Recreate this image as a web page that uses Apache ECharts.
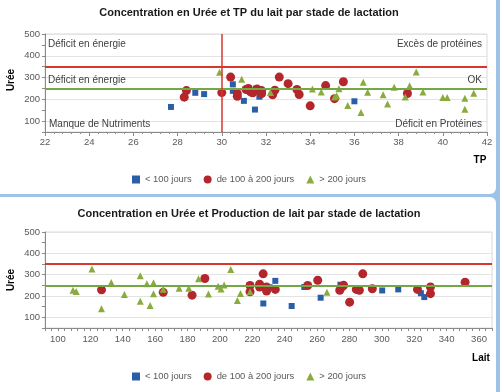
<!DOCTYPE html>
<html><head><meta charset="utf-8">
<script src="https://cdn.jsdelivr.net/npm/echarts@6/dist/echarts.min.js"></script>
<style>
html,body{margin:0;padding:0;background:#9dc3e6;width:500px;height:392px;overflow:hidden;position:relative}
.panel{position:absolute;background:#fff;border-radius:6px}
#c{position:absolute;left:0;top:0;width:500px;height:392px}
</style>
</head><body>
<div class="panel" style="left:-6px;top:-6px;width:502px;height:200px"></div>
<div class="panel" style="left:-6px;top:197px;width:502px;height:201px"></div>
<div id="c"></div>
<script>
const seriesNames = ['< 100 jours', 'de 100 à 200 jours', '> 200 jours'];
const UREE_HIGH = 350, UREE_LOW = 250, TP_LIMIT = 30;

// Chart 1: TP vs Urée
const tpBlue = [[27.7,165],[28.8,230],[29.2,224],[30.5,269],[30.5,239],[31.0,193],[31.55,250],[31.5,153],[31.7,212],[36.0,191]];
const tpRed = [[28.3,210],[28.4,240],[30.0,231],[30.4,302],[30.7,227],[30.7,214],[31.1,245],[31.2,250],[31.3,234],[31.4,230],[31.6,247],[31.8,240],[31.8,226],[32.3,221],[32.4,242],[32.6,302],[33.0,272],[33.4,245],[33.5,222],[34.0,170],[34.7,263],[35.1,203],[35.5,281],[38.4,227]];
const tpGreen = [[29.9,324],[30.9,292],[32.2,231],[34.1,247],[34.5,234],[35.1,211],[35.2,217],[35.3,249],[35.7,172],[36.3,140],[36.4,279],[36.6,232],[37.3,221],[37.5,178],[37.8,256],[38.3,211],[38.5,262],[38.8,325],[39.1,234],[40.0,208],[40.2,208],[41.0,205],[41.0,155],[41.4,228]];

// Chart 2: Lait vs Urée
const laitBlue = [[226.8,165],[230.7,241],[234.2,271],[244.3,153],[252.1,242],[262.2,192],[274.4,253],[300.2,226],[310.1,231],[324.1,213],[326.2,195]];
const laitRed = [[126.9,229],[165,217],[182.8,204],[190.7,282],[218.6,249],[218.6,220],[224.5,255],[224.5,242],[226.7,304],[228.8,242],[228.8,223],[234.2,231],[254.2,249],[260.4,274],[274,227],[275.4,243],[276.4,250],[280.1,171],[284.2,231],[286.1,227],[288.2,304],[294.1,234],[322,231],[330,242],[330,211],[351.4,265]];
const laitGreen = [[109.3,227],[111.3,221],[121,327],[126.9,140],[132.9,263],[141,207],[150.8,295],[150.8,175],[154.9,257],[156.9,155],[159,262],[159,211],[165,232],[174.8,236],[180.8,236],[186.8,281],[192.9,209],[198.9,246],[200.7,233],[202.6,252],[206.7,324],[210.8,179],[212.7,212],[218.6,220],[266.1,217]];

const quadrantLabels = ['Déficit en énergie','Excès de protéines','Déficit en énergie','OK','Manque de Nutriments','Déficit en Protéines'];
const titles = ['Concentration en Urée et TP du lait par stade de lactation','Concentration en Urée et Production de lait par stade de lactation'];

const FONT = 'Liberation Sans, Arial, sans-serif';
const BLUE = '#2a5fa8', RED = '#b3262c', GREEN = '#8aac3e';
const LRED = '#d6382d', LGREEN = '#74a844';
const AX = '#8a8a8a', TXT = '#595959';

function yAxisOpt(gi){
  return {
    gridIndex: gi, type:'value', min:50, max:500, interval:50,
    axisLine:{show:true, lineStyle:{color:AX}},
    axisTick:{show:true, length:3, lineStyle:{color:AX}},
    axisLabel:{fontFamily:FONT, fontSize:9.5, color:TXT, margin:5,
      formatter: v => (v % 100 === 0 ? String(v) : '')},
    splitLine:{show:true, lineStyle:{color:['rgba(0,0,0,0)','#e3e3e3'], width:1}}
  };
}

const markers = [
  {symbol:'rect', size:6, color:BLUE},
  {symbol:'circle', size:9, color:RED},
  {symbol:'triangle', size:7, color:GREEN}
];

function mkSeries(gi, datas, withVertical){
  return datas.map((d, i) => {
    const s = {
      name: seriesNames[i], type:'scatter', xAxisIndex:gi, yAxisIndex:gi,
      data:d, symbol:markers[i].symbol, symbolSize:markers[i].size,
      itemStyle:{color:markers[i].color, opacity:1},
      emphasis:{disabled:true}, animation:false
    };
    if (i === 0) {
      const ml = [
        {yAxis:UREE_HIGH, lineStyle:{color:LRED, width:2, type:'solid'}},
        {yAxis:UREE_LOW, lineStyle:{color:LGREEN, width:2, type:'solid'}}
      ];
      if (withVertical) ml.push({xAxis:TP_LIMIT, lineStyle:{color:LRED, width:1.5, type:'solid'}});
      s.markLine = {silent:true, symbol:'none', label:{show:false}, animation:false, data:ml};
    }
    return s;
  });
}

const txt = (x, y, text, opt) => Object.assign({
  type:'text', x, y, z:100,
  style:Object.assign({text, fontFamily:FONT, fontSize:10, fill:'#404040', textVerticalAlign:'middle', textAlign:'left'}, opt || {})
});

const legendBase = {
  left:132, padding:0, itemWidth:8, itemHeight:8, itemGap:12,
  textStyle:{fontFamily:FONT, fontSize:9.4, color:TXT}, selectedMode:false
};

const chart = echarts.init(document.getElementById('c'), null, {renderer:'canvas'});
chart.setOption({
  backgroundColor:'transparent',
  animation:false,
  grid:[
    {left:45, top:34, width:442, height:98, show:true, borderColor:'#d9d9d9', borderWidth:1, backgroundColor:'transparent'},
    {left:45, top:232, width:447, height:96, show:true, borderColor:'#d9d9d9', borderWidth:1, backgroundColor:'transparent'}
  ],
  xAxis:[
    {gridIndex:0, type:'value', min:22, max:42, interval:2,
     axisLine:{show:true, onZero:false, lineStyle:{color:AX}},
     axisTick:{show:true, length:4, lineStyle:{color:AX}},
     minorTick:{show:true, splitNumber:5, length:2, lineStyle:{color:AX}},
     axisLabel:{fontFamily:FONT, fontSize:9.5, color:TXT, margin:5},
     splitLine:{show:false}},
    {gridIndex:1, type:'value', min:92, max:368, interval:4,
     axisLine:{show:true, onZero:false, lineStyle:{color:AX}},
     axisTick:{show:true, length:3, lineStyle:{color:AX}},
     axisLabel:{fontFamily:FONT, fontSize:9.5, color:TXT, margin:6,
       formatter: v => (v % 20 === 0 ? String(v) : '')},
     splitLine:{show:false}}
  ],
  yAxis:[yAxisOpt(0), yAxisOpt(1)],
  legend:[
    Object.assign({data:seriesNames, top:175}, legendBase),
    Object.assign({data:seriesNames, top:372}, legendBase)
  ],
  series:[].concat(
    mkSeries(0, [tpBlue, tpRed, tpGreen], true),
    mkSeries(1, [laitBlue, laitRed, laitGreen], false)
  ),
  graphic:[
    txt(249, 13, titles[0], {textAlign:'center', fontWeight:'bold', fontSize:11, fill:'#1a1a1a'}),
    txt(249, 214, titles[1], {textAlign:'center', fontWeight:'bold', fontSize:11, fill:'#1a1a1a'}),
    txt(48, 44, quadrantLabels[0]),
    txt(482, 44, quadrantLabels[1], {textAlign:'right'}),
    txt(48, 80, quadrantLabels[2]),
    txt(482, 80, quadrantLabels[3], {textAlign:'right'}),
    txt(49, 124, quadrantLabels[4]),
    txt(482, 124, quadrantLabels[5], {textAlign:'right'}),
    {type:'text', x:11, y:80, rotation:Math.PI/2, z:100,
     style:{text:'Urée', fontFamily:FONT, fontSize:10, fontWeight:'bold', fill:'#000', textAlign:'center', textVerticalAlign:'middle'}},
    {type:'text', x:11, y:280, rotation:Math.PI/2, z:100,
     style:{text:'Urée', fontFamily:FONT, fontSize:10, fontWeight:'bold', fill:'#000', textAlign:'center', textVerticalAlign:'middle'}},
    txt(480, 160, 'TP', {textAlign:'center', fontWeight:'bold', fill:'#000'}),
    txt(481, 358, 'Lait', {textAlign:'center', fontWeight:'bold', fill:'#000'})
  ]
});
</script>
</body></html>
